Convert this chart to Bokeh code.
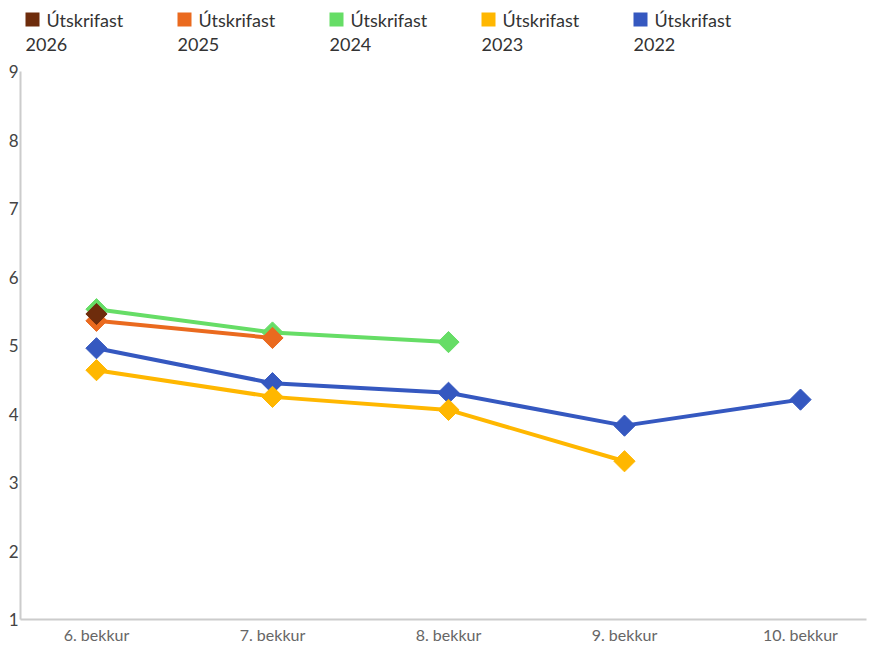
import numpy as np
from bokeh.plotting import figure
from bokeh.layouts import column
from bokeh.models import Range1d, FixedTicker, ColumnDataSource
from bokeh.core.properties import value
from bokeh.embed import file_html
from bokeh.resources import INLINE

FONT = "Lato"

categories = ["6. bekkur", "7. bekkur", "8. bekkur", "9. bekkur", "10. bekkur"]
series_names = ["Útskrifast 2026", "Útskrifast 2025", "Útskrifast 2024", "Útskrifast 2023", "Útskrifast 2022"]
series_colors = ["#6E2C0C", "#EA6A1F", "#66DD66", "#FFB700", "#3558C0"]
y2026 = [5.46]
y2025 = [5.36, 5.11]
y2024 = [5.53, 5.19, 5.05]
y2023 = [4.64, 4.25, 4.06, 3.31]
y2022 = [4.96, 4.45, 4.31, 3.83, 4.21]
series_values = [y2026, y2025, y2024, y2023, y2022]
y_ticks = [1, 2, 3, 4, 5, 6, 7, 8, 9]

W = 868
LEG_H = 56
MAIN_H = 590
BL, BR = 20, 2

# ---- legend strip (coordinates in pixels) ----
leg = figure(width=W, height=LEG_H, x_range=Range1d(BL, W - BR), y_range=Range1d(LEG_H, 0),
             output_backend="svg", toolbar_location=None,
             min_border_left=BL, min_border_right=BR, min_border_top=0, min_border_bottom=0)
leg.axis.visible = False
leg.grid.visible = False
leg.outline_line_color = None

step = 152
n = len(series_names)
sq_x = [32 + i * step for i in range(n)]
leg.rect(x=sq_x, y=[19] * n, width=14, height=14, fill_color=series_colors, line_color=None)
first_words = [s.split(" ")[0] for s in series_names]
years = [s.split(" ")[1] for s in series_names]
leg.text(x=[46 + i * step for i in range(n)], y=[19] * n, text=first_words,
         text_font=value(FONT), text_font_size="18px", text_color="#333333",
         text_baseline="alphabetic", text_align="left")
leg.text(x=[25 + i * step for i in range(n)], y=[44] * n, text=years,
         text_font=value(FONT), text_font_size="18px", text_color="#333333",
         text_baseline="alphabetic", text_align="left")

# ---- main chart ----
p = figure(width=W, height=MAIN_H, x_range=Range1d(-0.4318, 4.375), y_range=Range1d(1, 9),
           output_backend="svg", toolbar_location=None,
           min_border_top=15, min_border_left=BL, min_border_right=BR, min_border_bottom=24)
p.outline_line_color = None
p.grid.visible = False

for name, color, vals in reversed(list(zip(series_names, series_colors, series_values))):
    xs = list(range(len(vals)))
    src = ColumnDataSource(dict(x=xs, y=vals))
    p.line("x", "y", source=src, line_color=color, line_width=4)
    p.scatter("x", "y", source=src, marker="square", angle=np.pi / 4, size=15,
              fill_color=color, line_color=color)

p.xaxis.ticker = FixedTicker(ticks=list(range(len(categories))))
p.xaxis.major_label_overrides = {i: c for i, c in enumerate(categories)}
p.yaxis.ticker = FixedTicker(ticks=y_ticks)

for ax in (p.xaxis, p.yaxis):
    ax.axis_line_color = "#cccccc"
    ax.axis_line_width = 2
    ax.major_tick_line_color = None
    ax.minor_tick_line_color = None
    ax.major_tick_out = 0
    ax.major_tick_in = 0
    ax.major_label_text_font = FONT

p.xaxis.major_label_text_font_size = "16px"
p.xaxis.major_label_text_color = "#666666"
p.xaxis.major_label_standoff = 5
p.yaxis.major_label_text_font_size = "17px"
p.yaxis.major_label_text_color = "#444444"
p.yaxis.major_label_standoff = 2

layout = column(leg, p, spacing=0)
open("out.html", "w").write(file_html(layout, INLINE))
